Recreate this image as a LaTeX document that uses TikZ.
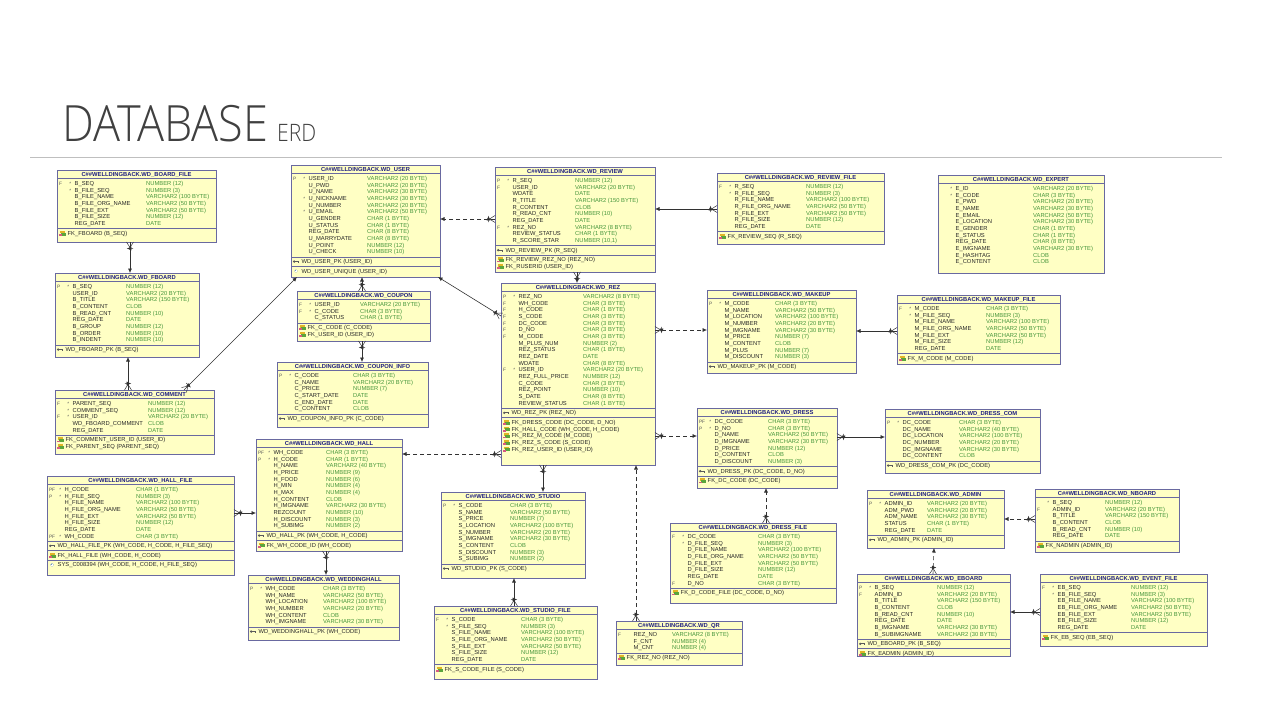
\documentclass[tikz,border=0pt]{standalone}
\usepackage{fontspec}
\usepackage{graphicx}
\setmainfont{Liberation Sans}
\IfFontExistsTF{Open Sans Light}{\newfontfamily\headfont{Open Sans Light}}{%
  \IfFontExistsTF{Lato Light}{\newfontfamily\headfont{Lato Light}}{%
    \IfFontExistsTF{Fira Sans Light}{\newfontfamily\headfont{Fira Sans Light}}{\newfontfamily\headfont{Open Sans}}}}
\usetikzlibrary{arrows.meta,calc,decorations.markings}
\definecolor{boxfill}{RGB}{255,255,196}
\definecolor{boxline}{RGB}{105,105,160}
\definecolor{titlec}{RGB}{30,30,130}
\definecolor{namec}{RGB}{40,40,40}
\definecolor{typec}{RGB}{70,150,60}
\definecolor{flagc}{RGB}{90,90,90}
\definecolor{linec}{RGB}{50,50,50}
\definecolor{headc}{RGB}{64,64,64}
\definecolor{rulec}{RGB}{191,191,191}
\definecolor{pkc}{RGB}{90,90,90}
\definecolor{fka}{RGB}{225,180,40}
\definecolor{fkb}{RGB}{90,165,60}
\definecolor{fkc}{RGB}{215,90,130}
\definecolor{ukc}{RGB}{110,150,200}
\tikzset{
  tbox/.style={draw=boxline, fill=boxfill, line width=0.7pt, inner sep=0pt, outer sep=0pt, rectangle},
  tline/.style={draw=boxline, line width=0.6pt},
  ttitle/.style={font=\fontsize{5.8}{6}\selectfont\bfseries, text=titlec, inner sep=0pt, anchor=base},
  nametxt/.style={font=\fontsize{5.8}{6}\selectfont, text=namec, anchor=base west, inner sep=0pt},
  typetxt/.style={font=\fontsize{5.8}{6}\selectfont, text=typec, anchor=base west, inner sep=0pt},
  flagtxt/.style={font=\fontsize{4.8}{5}\selectfont, text=flagc, anchor=base west, inner sep=0pt},
  headtxt/.style={text=headc, anchor=base west, inner sep=0pt},
  rel/.style={draw=linec, line width=0.6pt, -{Latex[length=4.5pt,width=4pt]},
    postaction={decorate, decoration={markings, mark=at position 0pt with {
      \draw[linec, line width=0.5pt, solid] (0pt,3.5pt) -- (5.5pt,0pt) -- (0pt,-3.5pt) (6.5pt,3.2pt) -- (6.5pt,-3.2pt);}}}},
  reld/.style={rel, dash pattern=on 4pt off 3pt}
}
\newcount\tncnt
\newcommand\nn{\global\advance\tncnt by 1 \node (t\the\tncnt)}
\newcommand\tbl[8]{%
  \pgfmathsetmacro\TW{#4-#2}%
  \pgfmathsetmacro\TH{#5-#3}%
  \node[tbox, minimum width=\TW pt, minimum height=\TH pt, anchor=north west] (#1) at (#2,#3) {};
  \draw[tline] (#2,#3+8.5) -- (#4,#3+8.5);
  \nn[ttitle] at ({(#2+#4)/2},#3+6.4) {C\#\#WELLDINGBACK.#6};
  \def\TX{#2}\def\TY{#3}\def\TR{#4}\def\TYX{#7}\def\RI{0}%
  \pgfmathsetmacro\CY{#3+11.9+6.67*#8}%
}
\newcommand\rw[4]{%
  \pgfmathsetmacro\RY{\TY+15.4+6.67*\RI}%
  \ifx\relax#1\relax\else\nn[flagtxt] at (\TX+1.8,\RY) {#1};\fi
  \ifx\relax#2\relax\else\nn[flagtxt] at (\TX+12.2,\RY) {#2};\fi
  \nn[nametxt] at (\TX+17.5,\RY) {#3};
  \nn[typetxt] at (\TYX,\RY) {#4};
  \pgfmathtruncatemacro\RI{\RI+1}}
\newcommand\sepl{\draw[tline] (\TX,\CY) -- (\TR,\CY); \pgfmathsetmacro\EY{\CY+4.6}}
\newcommand\iconpk{%
  \fill[pkc] (\TX+3.2,\EY) circle[radius=1.3pt];
  \draw[pkc,line width=0.8pt] (\TX+3.5,\EY) -- (\TX+8.3,\EY);
  \draw[pkc,line width=0.6pt] (\TX+7.6,\EY) -- (\TX+7.6,\EY+1.5);}
\newcommand\iconfk{%
  \fill[fka] (\TX+2.5,\EY-2.4) rectangle (\TX+7.5,\EY+0.2);
  \fill[fkb] (\TX+3.8,\EY-0.6) rectangle (\TX+8.8,\EY+2.4);
  \fill[fkc] (\TX+2.3,\EY+0.9) rectangle (\TX+4.6,\EY+2.6);}
\newcommand\iconuk{%
  \fill[ukc] (\TX+5,\EY) circle[radius=1.7pt];
  \draw[white,line width=0.4pt] (\TX+3.9,\EY) -- (\TX+6.1,\EY) (\TX+5,\EY-1.1) -- (\TX+5,\EY+1.1);}
\newcommand\ent[2]{%
  \csname icon#1\endcsname
  \nn[nametxt] at (\TX+10.5,\EY+2.1) {#2};
  \pgfmathsetmacro\EY{\EY+6.67}\pgfmathsetmacro\CY{\EY-1.8}}
\catcode`\_=12
\begin{document}
\begin{tikzpicture}[x=1pt,y=-1pt]
\useasboundingbox (0,0) rectangle (1280,720);
\fill[white] (0,0) rectangle (1280,720);
\nn[headtxt] at (62,141) {\resizebox{206pt}{\height}{\headfont\fontsize{50}{60}\selectfont DATABASE}};
\nn[headtxt] at (277,141) {\resizebox{39pt}{\height}{\headfont\fontsize{24}{28}\selectfont ERD}};
\draw[rulec, line width=1pt] (30,157) -- (1222,157);

% ---------- tables ----------
\tbl{bfile}{57}{170}{216}{242}{WD_BOARD_FILE}{146}{7}
\rw{F}{*}{B_SEQ}{NUMBER (12)}
\rw{}{*}{B_FILE_SEQ}{NUMBER (3)}
\rw{}{}{B_FILE_NAME}{VARCHAR2 (100 BYTE)}
\rw{}{}{B_FILE_ORG_NAME}{VARCHAR2 (50 BYTE)}
\rw{}{}{B_FILE_EXT}{VARCHAR2 (50 BYTE)}
\rw{}{}{B_FILE_SIZE}{NUMBER (12)}
\rw{}{}{REG_DATE}{DATE}
\sepl \ent{fk}{FK_FBOARD (B_SEQ)}

\tbl{fboard}{55}{273}{199}{357}{WD_FBOARD}{126}{9}
\rw{P}{*}{B_SEQ}{NUMBER (12)}
\rw{}{}{USER_ID}{VARCHAR2 (20 BYTE)}
\rw{}{}{B_TITLE}{VARCHAR2 (150 BYTE)}
\rw{}{}{B_CONTENT}{CLOB}
\rw{}{}{B_READ_CNT}{NUMBER (10)}
\rw{}{}{REG_DATE}{DATE}
\rw{}{}{B_GROUP}{NUMBER (12)}
\rw{}{}{B_ORDER}{NUMBER (10)}
\rw{}{}{B_INDENT}{NUMBER (10)}
\sepl \ent{pk}{WD_FBOARD_PK (B_SEQ)}

\tbl{user}{291}{165}{440}{277}{WD_USER}{367}{12}
\rw{P}{*}{USER_ID}{VARCHAR2 (20 BYTE)}
\rw{}{}{U_PWD}{VARCHAR2 (20 BYTE)}
\rw{}{}{U_NAME}{VARCHAR2 (30 BYTE)}
\rw{}{*}{U_NICKNAME}{VARCHAR2 (30 BYTE)}
\rw{}{}{U_NUMBER}{VARCHAR2 (20 BYTE)}
\rw{}{*}{U_EMAIL}{VARCHAR2 (50 BYTE)}
\rw{}{}{U_GENDER}{CHAR (1 BYTE)}
\rw{}{}{U_STATUS}{CHAR (1 BYTE)}
\rw{}{}{REG_DATE}{CHAR (8 BYTE)}
\rw{}{}{U_MARRYDATE}{CHAR (8 BYTE)}
\rw{}{}{U_POINT}{NUMBER (12)}
\rw{}{}{U_CHECK}{NUMBER (10)}
\sepl \ent{pk}{WD_USER_PK (USER_ID)}
\sepl \ent{uk}{WD_USER_UNIQUE (USER_ID)}

\tbl{coupon}{297}{291}{430}{341}{WD_COUPON}{360}{3}
\rw{F}{*}{USER_ID}{VARCHAR2 (20 BYTE)}
\rw{F}{*}{C_CODE}{CHAR (3 BYTE)}
\rw{}{}{C_STATUS}{CHAR (1 BYTE)}
\sepl \ent{fk}{FK_C_CODE (C_CODE)} \ent{fk}{FK_USER_ID (USER_ID)}

\tbl{cinfo}{277}{362}{428}{427}{WD_COUPON_INFO}{353}{6}
\rw{P}{*}{C_CODE}{CHAR (3 BYTE)}
\rw{}{}{C_NAME}{VARCHAR2 (20 BYTE)}
\rw{}{}{C_PRICE}{NUMBER (7)}
\rw{}{}{C_START_DATE}{DATE}
\rw{}{}{C_END_DATE}{DATE}
\rw{}{}{C_CONTENT}{CLOB}
\sepl \ent{pk}{WD_COUPON_INFO_PK (C_CODE)}

\tbl{comment}{55}{390}{214}{454}{WD_COMMENT}{148}{5}
\rw{F}{*}{PARENT_SEQ}{NUMBER (12)}
\rw{}{*}{COMMENT_SEQ}{NUMBER (12)}
\rw{F}{*}{USER_ID}{VARCHAR2 (20 BYTE)}
\rw{}{}{WD_FBOARD_COMMENT}{CLOB}
\rw{}{}{REG_DATE}{DATE}
\sepl \ent{fk}{FK_COMMENT_USER_ID (USER_ID)} \ent{fk}{FK_PARENT_SEQ (PARENT_SEQ)}

\tbl{review}{495}{167}{655}{272}{WD_REVIEW}{575}{10}
\rw{P}{*}{R_SEQ}{NUMBER (12)}
\rw{F}{}{USER_ID}{VARCHAR2 (20 BYTE)}
\rw{}{}{WDATE}{DATE}
\rw{}{}{R_TITLE}{VARCHAR2 (150 BYTE)}
\rw{}{}{R_CONTENT}{CLOB}
\rw{}{}{R_READ_CNT}{NUMBER (10)}
\rw{}{}{REG_DATE}{DATE}
\rw{F}{*}{REZ_NO}{VARCHAR2 (8 BYTE)}
\rw{}{}{REVIEW_STATUS}{CHAR (1 BYTE)}
\rw{}{}{R_SCORE_STAR}{NUMBER (10,1)}
\sepl \ent{pk}{WD_REVIEW_PK (R_SEQ)}
\sepl \ent{fk}{FK_REVIEW_REZ_NO (REZ_NO)} \ent{fk}{FK_RUSERID (USER_ID)}

\tbl{rfile}{717}{173}{884}{244}{WD_REVIEW_FILE}{806}{7}
\rw{F}{*}{R_SEQ}{NUMBER (12)}
\rw{}{*}{R_FILE_SEQ}{NUMBER (3)}
\rw{}{}{R_FILE_NAME}{VARCHAR2 (100 BYTE)}
\rw{}{}{R_FILE_ORG_NAME}{VARCHAR2 (50 BYTE)}
\rw{}{}{R_FILE_EXT}{VARCHAR2 (50 BYTE)}
\rw{}{}{R_FILE_SIZE}{NUMBER (12)}
\rw{}{}{REG_DATE}{DATE}
\sepl \ent{fk}{FK_REVIEW_SEQ (R_SEQ)}

\tbl{expert}{938}{175}{1104}{273}{WD_EXPERT}{1033}{12}
\rw{}{*}{E_ID}{VARCHAR2 (20 BYTE)}
\rw{}{*}{E_CODE}{CHAR (3 BYTE)}
\rw{}{}{E_PWD}{VARCHAR2 (20 BYTE)}
\rw{}{}{E_NAME}{VARCHAR2 (30 BYTE)}
\rw{}{}{E_EMAIL}{VARCHAR2 (50 BYTE)}
\rw{}{}{E_LOCATION}{VARCHAR2 (30 BYTE)}
\rw{}{}{E_GENDER}{CHAR (1 BYTE)}
\rw{}{}{E_STATUS}{CHAR (1 BYTE)}
\rw{}{}{REG_DATE}{CHAR (8 BYTE)}
\rw{}{}{E_IMGNAME}{VARCHAR2 (30 BYTE)}
\rw{}{}{E_HASHTAG}{CLOB}
\rw{}{}{E_CONTENT}{CLOB}

\tbl{rez}{501}{283}{655}{465}{WD_REZ}{583}{17}
\rw{P}{*}{REZ_NO}{VARCHAR2 (8 BYTE)}
\rw{F}{}{WH_CODE}{CHAR (3 BYTE)}
\rw{F}{}{H_CODE}{CHAR (1 BYTE)}
\rw{F}{}{S_CODE}{CHAR (3 BYTE)}
\rw{F}{}{DC_CODE}{CHAR (3 BYTE)}
\rw{F}{}{D_NO}{CHAR (3 BYTE)}
\rw{F}{}{M_CODE}{CHAR (3 BYTE)}
\rw{}{}{M_PLUS_NUM}{NUMBER (2)}
\rw{}{}{REZ_STATUS}{CHAR (1 BYTE)}
\rw{}{}{REZ_DATE}{DATE}
\rw{}{}{WDATE}{CHAR (8 BYTE)}
\rw{F}{*}{USER_ID}{VARCHAR2 (20 BYTE)}
\rw{}{}{REZ_FULL_PRICE}{NUMBER (12)}
\rw{}{}{C_CODE}{CHAR (3 BYTE)}
\rw{}{}{REZ_POINT}{NUMBER (10)}
\rw{}{}{S_DATE}{CHAR (8 BYTE)}
\rw{}{}{REVIEW_STATUS}{CHAR (1 BYTE)}
\sepl \ent{pk}{WD_REZ_PK (REZ_NO)}
\sepl \ent{fk}{FK_DRESS_CODE (DC_CODE, D_NO)} \ent{fk}{FK_HALL_CODE (WH_CODE, H_CODE)}
\ent{fk}{FK_REZ_M_CODE (M_CODE)} \ent{fk}{FK_REZ_S_CODE (S_CODE)} \ent{fk}{FK_REZ_USER_ID (USER_ID)}

\tbl{makeup}{707}{290}{856}{373}{WD_MAKEUP}{775}{9}
\rw{P}{*}{M_CODE}{CHAR (3 BYTE)}
\rw{}{}{M_NAME}{VARCHAR2 (50 BYTE)}
\rw{}{}{M_LOCATION}{VARCHAR2 (100 BYTE)}
\rw{}{}{M_NUMBER}{VARCHAR2 (20 BYTE)}
\rw{}{}{M_IMGNAME}{VARCHAR2 (30 BYTE)}
\rw{}{}{M_PRICE}{NUMBER (7)}
\rw{}{}{M_CONTENT}{CLOB}
\rw{}{}{M_PLUS}{NUMBER (7)}
\rw{}{}{M_DISCOUNT}{NUMBER (3)}
\sepl \ent{pk}{WD_MAKEUP_PK (M_CODE)}

\tbl{mfile}{897}{295}{1060}{364}{WD_MAKEUP_FILE}{986}{7}
\rw{F}{*}{M_CODE}{CHAR (3 BYTE)}
\rw{}{*}{M_FILE_SEQ}{NUMBER (3)}
\rw{}{}{M_FILE_NAME}{VARCHAR2 (100 BYTE)}
\rw{}{}{M_FILE_ORG_NAME}{VARCHAR2 (50 BYTE)}
\rw{}{}{M_FILE_EXT}{VARCHAR2 (50 BYTE)}
\rw{}{}{M_FILE_SIZE}{NUMBER (12)}
\rw{}{}{REG_DATE}{DATE}
\sepl \ent{fk}{FK_M_CODE (M_CODE)}

\tbl{hall}{256}{439}{402}{551}{WD_HALL}{326}{12}
\rw{PF}{*}{WH_CODE}{CHAR (3 BYTE)}
\rw{P}{*}{H_CODE}{CHAR (1 BYTE)}
\rw{}{}{H_NAME}{VARCHAR2 (40 BYTE)}
\rw{}{}{H_PRICE}{NUMBER (9)}
\rw{}{}{H_FOOD}{NUMBER (6)}
\rw{}{}{H_MIN}{NUMBER (4)}
\rw{}{}{H_MAX}{NUMBER (4)}
\rw{}{}{H_CONTENT}{CLOB}
\rw{}{}{H_IMGNAME}{VARCHAR2 (30 BYTE)}
\rw{}{}{REZCOUNT}{NUMBER (10)}
\rw{}{}{H_DISCOUNT}{NUMBER (3)}
\rw{}{}{H_SUBIMG}{NUMBER (2)}
\sepl \ent{pk}{WD_HALL_PK (WH_CODE, H_CODE)}
\sepl \ent{fk}{FK_WH_CODE_ID (WH_CODE)}

\tbl{hfile}{47}{476}{234}{575}{WD_HALL_FILE}{136}{8}
\rw{PF}{*}{H_CODE}{CHAR (1 BYTE)}
\rw{P}{*}{H_FILE_SEQ}{NUMBER (3)}
\rw{}{}{H_FILE_NAME}{VARCHAR2 (100 BYTE)}
\rw{}{}{H_FILE_ORG_NAME}{VARCHAR2 (50 BYTE)}
\rw{}{}{H_FILE_EXT}{VARCHAR2 (50 BYTE)}
\rw{}{}{H_FILE_SIZE}{NUMBER (12)}
\rw{}{}{REG_DATE}{DATE}
\rw{PF}{*}{WH_CODE}{CHAR (3 BYTE)}
\sepl \ent{pk}{WD_HALL_FILE_PK (WH_CODE, H_CODE, H_FILE_SEQ)}
\sepl \ent{fk}{FK_HALL_FILE (WH_CODE, H_CODE)}
\sepl \ent{uk}{SYS_C008394 (WH_CODE, H_CODE, H_FILE_SEQ)}

\tbl{whall}{248}{575}{399}{640}{WD_WEDDINGHALL}{323}{6}
\rw{P}{*}{WH_CODE}{CHAR (3 BYTE)}
\rw{}{}{WH_NAME}{VARCHAR2 (50 BYTE)}
\rw{}{}{WH_LOCATION}{VARCHAR2 (100 BYTE)}
\rw{}{}{WH_NUMBER}{VARCHAR2 (20 BYTE)}
\rw{}{}{WH_CONTENT}{CLOB}
\rw{}{}{WH_IMGNAME}{VARCHAR2 (30 BYTE)}
\sepl \ent{pk}{WD_WEDDINGHALL_PK (WH_CODE)}

\tbl{studio}{441}{492}{585}{578}{WD_STUDIO}{510}{9}
\rw{P}{*}{S_CODE}{CHAR (3 BYTE)}
\rw{}{}{S_NAME}{VARCHAR2 (50 BYTE)}
\rw{}{}{S_PRICE}{NUMBER (7)}
\rw{}{}{S_LOCATION}{VARCHAR2 (100 BYTE)}
\rw{}{}{S_NUMBER}{VARCHAR2 (20 BYTE)}
\rw{}{}{S_IMGNAME}{VARCHAR2 (30 BYTE)}
\rw{}{}{S_CONTENT}{CLOB}
\rw{}{}{S_DISCOUNT}{NUMBER (3)}
\rw{}{}{S_SUBIMG}{NUMBER (2)}
\sepl \ent{pk}{WD_STUDIO_PK (S_CODE)}

\tbl{sfile}{434}{606}{597}{679}{WD_STUDIO_FILE}{521}{7}
\rw{F}{*}{S_CODE}{CHAR (3 BYTE)}
\rw{}{*}{S_FILE_SEQ}{NUMBER (3)}
\rw{}{}{S_FILE_NAME}{VARCHAR2 (100 BYTE)}
\rw{}{}{S_FILE_ORG_NAME}{VARCHAR2 (50 BYTE)}
\rw{}{}{S_FILE_EXT}{VARCHAR2 (50 BYTE)}
\rw{}{}{S_FILE_SIZE}{NUMBER (12)}
\rw{}{}{REG_DATE}{DATE}
\sepl \ent{fk}{FK_S_CODE_FILE (S_CODE)}

\tbl{qr}{616}{621}{742}{665}{WD_QR}{672}{3}
\rw{F}{}{REZ_NO}{VARCHAR2 (8 BYTE)}
\rw{}{}{F_CNT}{NUMBER (4)}
\rw{}{}{M_CNT}{NUMBER (4)}
\sepl \ent{fk}{FK_REZ_NO (REZ_NO)}

\tbl{dress}{697}{408}{837}{488}{WD_DRESS}{768}{7}
\rw{PF}{*}{DC_CODE}{CHAR (3 BYTE)}
\rw{P}{*}{D_NO}{CHAR (3 BYTE)}
\rw{}{}{D_NAME}{VARCHAR2 (50 BYTE)}
\rw{}{}{D_IMGNAME}{VARCHAR2 (30 BYTE)}
\rw{}{}{D_PRICE}{NUMBER (12)}
\rw{}{}{D_CONTENT}{CLOB}
\rw{}{}{D_DISCOUNT}{NUMBER (3)}
\sepl \ent{pk}{WD_DRESS_PK (DC_CODE, D_NO)}
\sepl \ent{fk}{FK_DC_CODE (DC_CODE)}

\tbl{dcom}{885}{409}{1040}{473}{WD_DRESS_COM}{959}{6}
\rw{P}{*}{DC_CODE}{CHAR (3 BYTE)}
\rw{}{}{DC_NAME}{VARCHAR2 (40 BYTE)}
\rw{}{}{DC_LOCATION}{VARCHAR2 (100 BYTE)}
\rw{}{}{DC_NUMBER}{VARCHAR2 (20 BYTE)}
\rw{}{}{DC_IMGNAME}{VARCHAR2 (30 BYTE)}
\rw{}{}{DC_CONTENT}{CLOB}
\sepl \ent{pk}{WD_DRESS_COM_PK (DC_CODE)}

\tbl{dfile}{670}{523}{836}{603}{WD_DRESS_FILE}{758}{8}
\rw{F}{*}{DC_CODE}{CHAR (3 BYTE)}
\rw{}{*}{D_FILE_SEQ}{NUMBER (3)}
\rw{}{}{D_FILE_NAME}{VARCHAR2 (100 BYTE)}
\rw{}{}{D_FILE_ORG_NAME}{VARCHAR2 (50 BYTE)}
\rw{}{}{D_FILE_EXT}{VARCHAR2 (50 BYTE)}
\rw{}{}{D_FILE_SIZE}{NUMBER (12)}
\rw{}{}{REG_DATE}{DATE}
\rw{F}{}{D_NO}{CHAR (3 BYTE)}
\sepl \ent{fk}{FK_D_CODE_FILE (DC_CODE, D_NO)}

\tbl{admin}{867}{490}{1004}{548}{WD_ADMIN}{927}{5}
\rw{P}{*}{ADMIN_ID}{VARCHAR2 (20 BYTE)}
\rw{}{}{ADM_PWD}{VARCHAR2 (20 BYTE)}
\rw{}{}{ADM_NAME}{VARCHAR2 (30 BYTE)}
\rw{}{}{STATUS}{CHAR (1 BYTE)}
\rw{}{}{REG_DATE}{DATE}
\sepl \ent{pk}{WD_ADMIN_PK (ADMIN_ID)}

\tbl{nboard}{1035}{489}{1179}{552}{WD_NBOARD}{1105}{6}
\rw{}{*}{B_SEQ}{NUMBER (12)}
\rw{F}{}{ADMIN_ID}{VARCHAR2 (20 BYTE)}
\rw{}{}{B_TITLE}{VARCHAR2 (150 BYTE)}
\rw{}{}{B_CONTENT}{CLOB}
\rw{}{}{B_READ_CNT}{NUMBER (10)}
\rw{}{}{REG_DATE}{DATE}
\sepl \ent{fk}{FK_NADMIN (ADMIN_ID)}

\tbl{eboard}{857}{574}{1010}{656}{WD_EBOARD}{937}{8}
\rw{P}{*}{B_SEQ}{NUMBER (12)}
\rw{F}{}{ADMIN_ID}{VARCHAR2 (20 BYTE)}
\rw{}{}{B_TITLE}{VARCHAR2 (150 BYTE)}
\rw{}{}{B_CONTENT}{CLOB}
\rw{}{}{B_READ_CNT}{NUMBER (10)}
\rw{}{}{REG_DATE}{DATE}
\rw{}{}{B_IMGNAME}{VARCHAR2 (30 BYTE)}
\rw{}{}{B_SUBIMGNAME}{VARCHAR2 (30 BYTE)}
\sepl \ent{pk}{WD_EBOARD_PK (B_SEQ)}
\sepl
\begin{scope}
\clip (eboard.north west) rectangle (eboard.south east);
\ent{fk}{FK_EADMIN (ADMIN_ID)}
\end{scope}

\tbl{efile}{1040}{574}{1207}{646}{WD_EVENT_FILE}{1131}{7}
\rw{F}{*}{EB_SEQ}{NUMBER (12)}
\rw{}{*}{EB_FILE_SEQ}{NUMBER (3)}
\rw{}{}{EB_FILE_NAME}{VARCHAR2 (100 BYTE)}
\rw{}{}{EB_FILE_ORG_NAME}{VARCHAR2 (50 BYTE)}
\rw{}{}{EB_FILE_EXT}{VARCHAR2 (50 BYTE)}
\rw{}{}{EB_FILE_SIZE}{NUMBER (12)}
\rw{}{}{REG_DATE}{DATE}
\sepl \ent{fk}{FK_EB_SEQ (EB_SEQ)}

% ---------- relationships ----------
\draw[rel] ($(bfile.south west)+(73,0)$) -- ($(fboard.north west)+(75,0)$);
\draw[rel] ($(comment.north west)+(73,0)$) -- ($(fboard.south west)+(73,0)$);
\draw[rel] ($(comment.north west)+(129,0)$) -- ($(user.south west)+(6,0)$);
\draw[rel] ($(coupon.north west)+(65,0)$) -- ($(user.south west)+(71,0)$);
\draw[rel] ($(coupon.south west)+(65,0)$) -- ($(cinfo.north west)+(85,0)$);
\draw[reld] ($(review.north west)+(0,52)$) -- ($(user.north east)+(0,54)$);
\draw[rel] ($(rfile.north west)+(0,36)$) -- ($(review.north east)+(0,42)$);
\draw[rel] ($(review.south west)+(82,0)$) -- ($(rez.north west)+(76,0)$);
\draw[rel] ($(rez.north west)+(0,33)$) -- ($(user.south east)+(-2,0)$);
\draw[reld] ($(rez.north east)+(0,47)$) -- ($(makeup.north west)+(0,40)$);
\draw[rel] ($(mfile.north west)+(0,36)$) -- ($(makeup.north east)+(0,41)$);
\draw[reld] ($(rez.north east)+(0,153)$) -- ($(dress.north west)+(0,28)$);
\draw[rel] ($(dress.north east)+(0,29)$) -- ($(dcom.north west)+(0,28)$);
\draw[reld] ($(dfile.north west)+(96,0)$) -- ($(dress.south west)+(69,0)$);
\draw[reld] ($(rez.north west)+(0,171)$) -- ($(hall.north east)+(0,15)$);
\draw[rel] ($(hfile.north east)+(0,37)$) -- ($(hall.north west)+(0,74)$);
\draw[rel] ($(hall.south west)+(70,0)$) -- ($(whall.north west)+(78,0)$);
\draw[rel] ($(rez.south west)+(42,0)$) -- ($(studio.north west)+(102,0)$);
\draw[rel] ($(sfile.north west)+(80,0)$) -- ($(studio.south west)+(73,0)$);
\draw[reld] ($(qr.north west)+(20,0)$) -- ($(rez.south west)+(135,0)$);
\draw[reld] ($(nboard.north west)+(0,30)$) -- ($(admin.north east)+(0,29)$);
\draw[reld] ($(eboard.north west)+(76,0)$) -- ($(admin.south west)+(67,0)$);
\draw[rel] ($(efile.north west)+(0,38)$) -- ($(eboard.north east)+(0,38)$);
\end{tikzpicture}
\end{document}
